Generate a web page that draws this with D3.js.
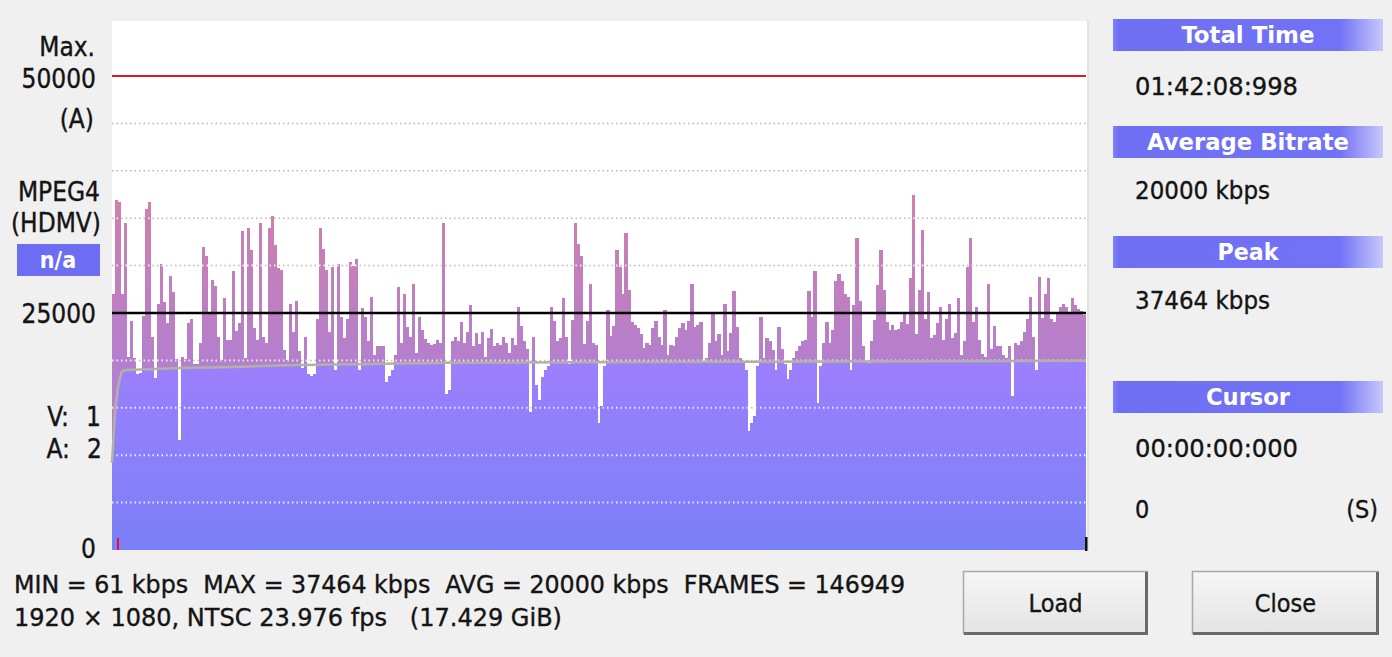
<!DOCTYPE html>
<html>
<head>
<meta charset="utf-8">
<script src="https://cdn.jsdelivr.net/npm/d3@7"></script>
<style>
  html, body { margin: 0; padding: 0; background: #f0f0f0; overflow: hidden; }
  svg { display: block; font-family: "DejaVu Sans Condensed", "DejaVu Sans", sans-serif; }
  text { white-space: pre; }
  .lbl { fill: #141414; stroke: #141414; stroke-width: 0.35; }
</style>
</head>
<body>
<svg width="1392" height="657"></svg>
<script>
// bitrate per time slice, in 1000 kbps
const bitrate = [
  27.0, 36.9, 36.7, 27.0, 34.5, 20.4, 24.2, 20.3, 18.6, 18.7,
  24.7, 36.0, 36.7, 22.5, 18.1, 26.0, 30.2, 26.2, 23.9, 28.9,
  27.2, 20.2, 11.6, 20.4, 20.2, 23.9, 24.4, 19.6, 19.6, 21.8,
  32.0, 31.0, 25.0, 28.5, 27.8, 22.5, 20.0, 26.6, 22.2, 22.2,
  29.4, 23.1, 23.9, 33.6, 20.3, 34.0, 31.6, 23.4, 22.2, 34.5,
  22.5, 21.8, 34.0, 35.2, 32.2, 29.7, 29.5, 21.1, 20.0, 26.0,
  23.0, 26.3, 21.0, 19.2, 22.5, 18.6,
  18.4, 18.6, 24.4, 34.0, 31.8, 29.5, 23.0, 29.9, 19.0, 30.2,
  24.6, 22.4, 24.4, 30.4, 30.0, 30.7, 19.0, 25.5, 24.6, 22.0,
  26.7, 20.6, 21.5, 21.5, 21.5, 17.7, 18.4, 19.0, 20.6, 27.7,
  21.8, 27.0, 23.5, 22.5, 28.1, 20.8, 24.6, 23.2, 22.3, 21.8,
  21.6, 21.7, 22.2, 21.8, 34.5, 16.5, 16.9, 22.0, 22.5, 22.0,
  24.1, 21.8, 23.0, 25.8, 21.5, 22.9, 21.7, 23.0, 20.4, 22.4,
  23.3, 21.5, 21.8, 21.6, 22.5,
  21.8, 20.8, 22.4, 21.6, 25.6, 23.6, 22.0, 21.2, 14.6, 22.5,
  17.4, 15.8, 18.2, 19.0, 19.4, 25.6, 24.2, 22.0, 22.4, 26.6,
  22.5, 19.6, 24.3, 34.5, 32.3, 31.0, 21.7, 24.2, 28.1, 21.8,
  21.6, 13.4, 15.2, 19.4, 25.3, 22.6, 23.6, 31.6, 29.9, 27.0,
  33.4, 27.4, 24.0, 23.7, 23.4, 22.8, 21.3, 21.8, 21.6, 23.4,
  24.2, 22.5, 21.6, 25.3, 20.6, 21.6, 21.5, 22.5, 23.4, 23.9,
  23.2, 24.2, 28.1, 23.5, 23.7,
  24.1, 19.7, 20.3, 21.8, 25.1, 22.0, 22.8, 20.6, 26.0, 21.0,
  22.9, 27.3, 23.5, 20.3, 19.9, 19.0, 12.6, 13.4, 14.1, 19.4,
  24.6, 20.3, 22.4, 22.0, 21.1, 19.0, 23.5, 21.2, 19.6, 18.0,
  19.0, 20.3, 21.0, 21.5, 22.0, 22.2, 27.3, 24.6, 29.4, 15.5,
  19.4, 21.8, 24.1, 21.8, 23.2, 28.4, 29.1, 28.4, 27.0, 26.7,
  19.0, 25.8, 32.9, 26.3, 21.5, 19.9, 19.7, 22.0, 24.3, 28.0,
  31.6, 27.4, 24.0, 23.2, 23.7,
  23.2, 23.3, 24.0, 25.1, 23.8, 28.7, 37.46, 22.8, 27.4, 33.8,
  24.4, 27.2, 22.4, 22.7, 23.9, 25.6, 22.2, 24.4, 26.0, 22.4,
  22.9, 26.6, 20.6, 22.0, 29.9, 32.9, 24.0, 25.6, 22.2, 20.7,
  20.4, 28.1, 21.2, 23.6, 21.5, 21.5, 20.6, 20.3, 21.5, 16.2,
  21.8, 21.6, 22.0, 23.0, 24.4, 26.7, 22.5, 19.0, 28.8, 24.5,
  27.0, 28.7, 24.4, 24.0, 25.1, 25.6, 25.9, 25.6, 25.1, 26.6,
  25.8, 25.4, 25.2, 24.8
];

// running average line (slice index -> 1000 kbps)
const avgIdx = [0, 1, 2, 3.2, 5, 23, 40, 58, 80, 112, 200, 325];
const avgVal = [9.2, 14.5, 17.2, 18.8, 19.0, 19.2, 19.3, 19.5, 19.6, 19.75, 19.85, 19.95];

const gridTicks = [5, 10, 15, 20, 30, 35, 40, 45];
const maxLine = 50;
const avgLine = 25;

const leftLabels = [
  { t: "Max.", x: 95, y: 56 },
  { t: "50000", x: 96, y: 88 },
  { t: "(A)", x: 94, y: 128 },
  { t: "MPEG4", x: 100, y: 201 },
  { t: "(HDMV)", x: 101, y: 232 },
  { t: "25000", x: 96, y: 323 },
  { t: "V:", x: 69, y: 426 }, { t: "1", x: 101, y: 426 },
  { t: "A:", x: 70, y: 458 }, { t: "2", x: 102, y: 458 },
  { t: "0", x: 96, y: 558 }
];

const panelHeads = [
  { t: "Total Time", y: 19, len: 133 },
  { t: "Average Bitrate", y: 126, len: 202 },
  { t: "Peak", y: 236, len: 61 },
  { t: "Cursor", y: 381, len: 84 }
];
const panelValues = [
  { t: "01:42:08:998", y: 95, len: 163 },
  { t: "20000 kbps", y: 199, len: 135 },
  { t: "37464 kbps", y: 309, len: 135 },
  { t: "00:00:00:000", y: 457, len: 163 },
  { t: "0", y: 518, len: null }
];
const infoLines = [
  { t: "MIN = 61 kbps  MAX = 37464 kbps  AVG = 20000 kbps  FRAMES = 146949", y: 593, len: 891 },
  { t: "1920 × 1080, NTSC 23.976 fps   (17.429 GiB)", y: 626, len: 548 }
];
const buttons = [
  { t: "Load", x: 963, w: 185 },
  { t: "Close", x: 1192, w: 187 }
];

const svg = d3.select("svg");
const plotL = 112, plotR = 1086, plotT = 21, plotB = 550;

const x = d3.scaleLinear().domain([0, bitrate.length]).range([plotL, plotR]);
const y = d3.scaleLinear().domain([0, 50]).range([plotB, 76]);
const avgAt = d3.scaleLinear().domain(avgIdx).range(avgVal);

const defs = svg.append("defs");
const blueGrad = defs.append("linearGradient").attr("id", "blueGrad")
  .attr("gradientUnits", "userSpaceOnUse").attr("x1", 0).attr("x2", 0)
  .attr("y1", y(0)).attr("y2", y(20));
blueGrad.append("stop").attr("offset", 0).attr("stop-color", "#7a80f7");
blueGrad.append("stop").attr("offset", 1).attr("stop-color", "#9d7ffd");

const pinkGrad = defs.append("linearGradient").attr("id", "pinkGrad")
  .attr("gradientUnits", "userSpaceOnUse").attr("x1", 0).attr("x2", 0)
  .attr("y1", y(20)).attr("y2", y(37));
pinkGrad.append("stop").attr("offset", 0).attr("stop-color", "#b47fcd");
pinkGrad.append("stop").attr("offset", 1).attr("stop-color", "#d07fab");

const headGrad = defs.append("linearGradient").attr("id", "headGrad");
headGrad.append("stop").attr("offset", 0).attr("stop-color", "#8383f4");
headGrad.append("stop").attr("offset", 0.02).attr("stop-color", "#6f6ff4");
headGrad.append("stop").attr("offset", 0.84).attr("stop-color", "#7272f6");
headGrad.append("stop").attr("offset", 1).attr("stop-color", "#c8c8fb");

const btnGrad = defs.append("linearGradient").attr("id", "btnGrad")
  .attr("x1", 0).attr("x2", 0).attr("y1", 0).attr("y2", 1);
btnGrad.append("stop").attr("offset", 0).attr("stop-color", "#f6f6f6");
btnGrad.append("stop").attr("offset", 1).attr("stop-color", "#e3e3e3");

defs.append("clipPath").attr("id", "barClip")
  .selectAll("rect").data(bitrate).join("rect")
  .attr("x", (d, i) => x(i)).attr("width", x(1) - x(0) + 0.2)
  .attr("y", d => y(d)).attr("height", d => y(0) - y(d));

// plot background
svg.append("rect").attr("x", plotL).attr("y", plotT)
  .attr("width", plotR - plotL + 1).attr("height", plotB - plotT).attr("fill", "#fff");
svg.append("rect").attr("x", plotR + 1).attr("y", plotT)
  .attr("width", 2).attr("height", plotB - plotT).attr("fill", "#e2e2e2");

// dotted grid on white
svg.append("g").selectAll("line").data(gridTicks).join("line")
  .attr("x1", plotL).attr("x2", plotR).attr("y1", d => y(d)).attr("y2", d => y(d))
  .attr("stroke", "#b8b8b8").attr("stroke-width", 1.5).attr("stroke-dasharray", "1.5,3");

// bars: blue up to the running average, mauve above it
const bars = svg.append("g").attr("shape-rendering", "crispEdges");
bars.selectAll("rect.low").data(bitrate).join("rect").attr("class", "low")
  .attr("x", (d, i) => x(i)).attr("width", x(1) - x(0) + 0.3)
  .attr("y", (d, i) => y(Math.min(d, avgAt(i + 0.5))))
  .attr("height", (d, i) => y(0) - y(Math.min(d, avgAt(i + 0.5))))
  .attr("fill", "url(#blueGrad)");
bars.selectAll("rect.high").data(bitrate.map((d, i) => ({ v: d, i, a: avgAt(i + 0.5) })).filter(d => d.v > d.a))
  .join("rect").attr("class", "high")
  .attr("x", d => x(d.i)).attr("width", x(1) - x(0) + 0.3)
  .attr("y", d => y(d.v)).attr("height", d => y(d.a) - y(d.v))
  .attr("fill", "url(#pinkGrad)");

// dotted grid over bars
svg.append("g").attr("clip-path", "url(#barClip)")
  .selectAll("line").data(gridTicks).join("line")
  .attr("x1", plotL).attr("x2", plotR).attr("y1", d => y(d)).attr("y2", d => y(d))
  .attr("stroke", "#ffffff").attr("stroke-opacity", 0.85).attr("stroke-width", 2).attr("stroke-dasharray", "1.5,3");

// running average
svg.append("path").datum(avgIdx.map((d, i) => [d, avgVal[i]]))
  .attr("d", d3.line().x(d => x(d[0])).y(d => y(d[1])))
  .attr("fill", "none").attr("stroke", "#b3b2a2").attr("stroke-width", 2.5);

// reference lines
svg.append("line").attr("x1", plotL).attr("x2", plotR).attr("y1", y(maxLine)).attr("y2", y(maxLine))
  .attr("stroke", "#e5161c").attr("stroke-width", 2);
svg.append("line").attr("x1", plotL).attr("x2", plotR).attr("y1", y(avgLine)).attr("y2", y(avgLine))
  .attr("stroke", "#000").attr("stroke-width", 2.5);

// cursor and end markers
svg.append("rect").attr("x", x(0) + 5).attr("y", plotB - 12).attr("width", 2).attr("height", 12).attr("fill", "#e0103a");
svg.append("rect").attr("x", plotR - 1).attr("y", plotB - 13).attr("width", 2.5).attr("height", 14).attr("fill", "#111");

// left labels
svg.append("g").selectAll("text").data(leftLabels).join("text")
  .attr("class", "lbl")
  .attr("x", d => d.x).attr("y", d => d.y).attr("text-anchor", "end")
  .attr("font-size", 26).text(d => d.t);

svg.append("rect").attr("x", 17).attr("y", 244).attr("width", 83).attr("height", 32).attr("fill", "#6d6df4");
svg.append("text").attr("x", 58).attr("y", 268).attr("text-anchor", "middle")
  .attr("font-size", 23).attr("font-weight", "bold").attr("fill", "#fff").text("n/a");

// right panel
const heads = svg.append("g").selectAll("g").data(panelHeads).join("g");
heads.append("rect").attr("x", 1113).attr("y", d => d.y).attr("width", 270).attr("height", 32)
  .attr("fill", "url(#headGrad)");
heads.append("text").attr("x", 1248).attr("y", d => d.y + 24).attr("text-anchor", "middle")
  .attr("font-size", 23).attr("font-weight", "bold").attr("fill", "#fff")
  .attr("textLength", d => d.len).attr("lengthAdjust", "spacingAndGlyphs").text(d => d.t);

svg.append("g").selectAll("text").data(panelValues).join("text")
  .attr("class", "lbl")
  .attr("x", 1135).attr("y", d => d.y).attr("font-size", 25)
  .each(function (d) { if (d.len) d3.select(this).attr("textLength", d.len).attr("lengthAdjust", "spacingAndGlyphs"); })
  .text(d => d.t);
svg.append("text").attr("class", "lbl").attr("x", 1378).attr("y", 518).attr("text-anchor", "end")
  .attr("font-size", 25).text("(S)");

// info lines
svg.append("g").selectAll("text").data(infoLines).join("text")
  .attr("class", "lbl")
  .attr("x", 14).attr("y", d => d.y).attr("font-size", 25)
  .attr("textLength", d => d.len).attr("lengthAdjust", "spacingAndGlyphs").text(d => d.t);

// buttons
const btn = svg.append("g").selectAll("g").data(buttons).join("g");
btn.append("rect").attr("x", d => d.x).attr("y", 571).attr("width", d => d.w).attr("height", 64)
  .attr("fill", "url(#btnGrad)");
btn.append("path").attr("d", d => `M${d.x + 0.5},634 V571.5 H${d.x + d.w}`)
  .attr("fill", "none").attr("stroke", "#a9a9a9").attr("stroke-width", 1.5);
btn.append("path").attr("d", d => `M${d.x + 1},633.5 H${d.x + d.w - 1.5} V572`)
  .attr("fill", "none").attr("stroke", "#6a6a6a").attr("stroke-width", 3);
btn.append("text").attr("class", "lbl").attr("x", d => d.x + d.w / 2).attr("y", 612).attr("text-anchor", "middle")
  .attr("font-size", 25).text(d => d.t);
</script>
</body>
</html>
